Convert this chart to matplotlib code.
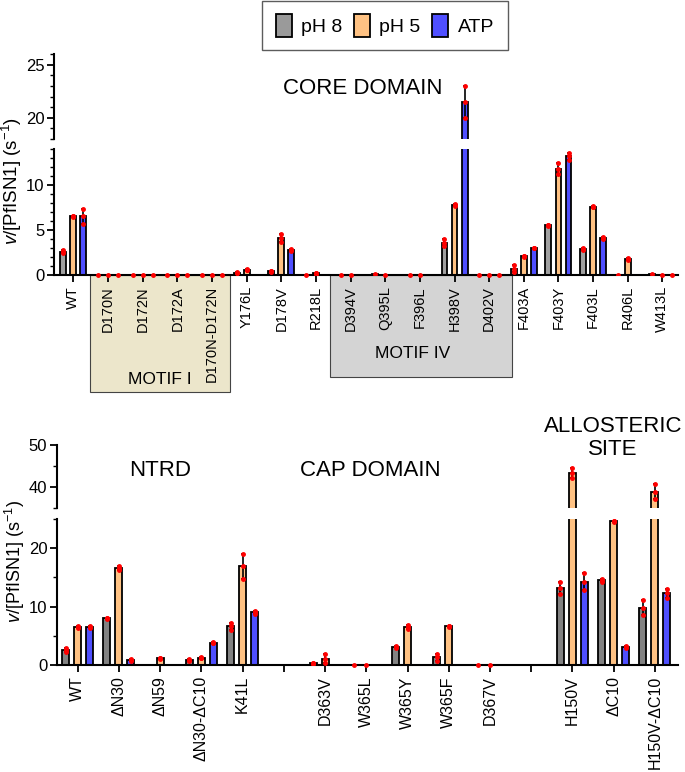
import numpy as np
import matplotlib
matplotlib.use("Agg")
import matplotlib.pyplot as plt
from matplotlib.patches import Rectangle, Patch
from matplotlib.ticker import MultipleLocator
from matplotlib.transforms import blended_transform_factory

plt.rcParams['font.family'] = ['Liberation Sans', 'DejaVu Sans']
plt.rcParams['mathtext.fontset'] = 'custom'
plt.rcParams['mathtext.rm'] = 'Liberation Sans'
plt.rcParams['mathtext.it'] = 'Liberation Sans:italic'

# ---- data: top panel (core domain) ----
top_labels = ["WT", "D170N", "D172N", "D172A", "D170N-D172N", "Y176L", "D178V",
              "R218L", "D394V", "Q395L", "F396L", "H398V", "D402V", "F403A",
              "F403Y", "F403L", "R406L", "W413L"]
top_ph8 = [2.6, 0, 0, 0, 0, 0.25, 0.4, 0, 0, 0.08, 0, 3.6, 0, 0.7, 5.5, 2.9, 0.05, 0.08]
top_ph5 = [6.5, 0, 0, 0, 0, 0.6, 4.1, 0.2, 0, 0, 0, 7.8, 0, 2.1, 11.8, 7.6, 1.8, 0]
top_atp = [6.5, 0, 0, 0, 0, None, 2.8, None, None, None, None, 21.5, 0, 3.0, 13.2, 4.1, None, 0]
top_ph8_err = [0.2, 0, 0, 0, 0, 0.05, 0.05, 0, 0, 0, 0, 0.4, 0, 0.4, 0.1, 0.1, 0, 0]
top_ph5_err = [0.1, 0, 0, 0, 0, 0.05, 0.4, 0.05, 0, 0, 0, 0.1, 0, 0.05, 0.6, 0.1, 0.1, 0]
top_atp_err = [0.8, 0, 0, 0, 0, 0, 0.1, 0, 0, 0, 0, 1.5, 0, 0.05, 0.4, 0.1, 0, 0]

# ---- data: bottom panel (NTRD / CAP / allosteric) ----
bot_labels = ["WT", "ΔN30", "ΔN59", "ΔN30-ΔC10", "K41L", "", "D363V", "W365L",
              "W365Y", "W365F", "D367V", "", "H150V", "ΔC10", "H150V-ΔC10"]
bot_ph8 = [2.6, 8.0, None, 0.85, 6.6, None, 0.3, 0, 3.1, 1.3, 0, None, 13.2, 14.5, 9.8]
bot_ph5 = [6.5, 16.6, 1.15, 1.25, 16.9, None, 1.1, 0, 6.5, 6.6, 0, None, 43.3, 24.6, 38.9]
bot_atp = [6.5, 0.85, None, 3.8, 9.0, None, None, None, None, None, None, None, 14.3, 3.1, 12.3]
bot_ph8_err = [0.3, 0.1, 0, 0.1, 0.6, 0, 0.1, 0, 0.2, 0.6, 0, 0, 1.1, 0.2, 1.3]
bot_ph5_err = [0.1, 0.3, 0.1, 0.1, 2.2, 0, 0.8, 0, 0.3, 0.1, 0, 0, 1.2, 0.1, 1.7]
bot_atp_err = [0.1, 0.1, 0, 0.1, 0.2, 0, 0, 0, 0, 0, 0, 0, 1.5, 0.2, 0.8]

series_names = ["pH 8", "pH 5", "ATP"]
c_gray_top = "#a0a0a0"
c_gray_bot = "#828282"
c_orange = "#ffc283"
c_blue = "#4f4fff"

width = 0.17
offsets = [-0.29, 0, 0.29]


def draw_bars(ax_hi, ax_lo, vals_list, errs_list, colors):
    for k in range(3):
        vals = vals_list[k]
        errs = errs_list[k]
        for i, v in enumerate(vals):
            if v is None:
                continue
            x = i + offsets[k]
            if v == 0:
                # measured but zero -> only a red dot on the axis
                ax_lo.plot(x, 0, 'o', color='red', ms=2.5, zorder=5, clip_on=False)
                continue
            for ax in (ax_hi, ax_lo):
                ax.bar(x, v, width, color=colors[k], edgecolor='black', linewidth=1.3, zorder=2)
                e = errs[i]
                if e > 0:
                    ax.errorbar(x, v, yerr=e, fmt='none', ecolor='black',
                                elinewidth=1.2, capsize=1.5, capthick=1.2, zorder=3)
                    ax.plot([x, x], [v - e, v + e], 'o', color='red', ms=2.5, zorder=4)
                ax.plot(x, v, 'o', color='red', ms=2.5, zorder=4)


def style_pair(ax_hi, ax_lo, xlim, hi_lim, lo_lim, xlab_size):
    for ax in (ax_hi, ax_lo):
        ax.set_xlim(*xlim)
        ax.spines['top'].set_visible(False)
        ax.spines['right'].set_visible(False)
        for s in ('left', 'bottom'):
            ax.spines[s].set_linewidth(1.5)
        ax.tick_params(axis='y', which='major', length=5, width=1.3, labelsize=12, pad=2)
        ax.tick_params(axis='y', which='minor', length=3, width=1.0)
        ax.patch.set_alpha(0)
    ax_hi.set_ylim(*hi_lim)
    ax_lo.set_ylim(*lo_lim)
    ax_hi.spines['bottom'].set_visible(False)
    ax_hi.tick_params(axis='x', bottom=False, labelbottom=False)
    ax_lo.tick_params(axis='x', length=5, width=1.3, labelsize=xlab_size, pad=3)


fig = plt.figure(figsize=(6.85, 7.72), dpi=100)

# top panel
ax1h = fig.add_axes([0.0788, 0.8199, 0.911, 0.1101])
ax1l = fig.add_axes([0.0788, 0.6438, 0.911, 0.1632])
draw_bars(ax1h, ax1l, [top_ph8, top_ph5, top_atp],
          [top_ph8_err, top_ph5_err, top_atp_err], [c_gray_top, c_orange, c_blue])
style_pair(ax1h, ax1l, (-0.56, 17.45), (18, 26), (0, 14), 10.5)
ax1h.yaxis.set_major_locator(MultipleLocator(5))
ax1h.yaxis.set_minor_locator(MultipleLocator(1))
ax1l.yaxis.set_major_locator(MultipleLocator(5))
ax1l.yaxis.set_minor_locator(MultipleLocator(1))
ax1l.set_xticks(np.arange(len(top_labels)))
ax1l.set_xticklabels(top_labels, rotation=90)

# motif boxes under the x axis
tr = blended_transform_factory(ax1l.transData, ax1l.transAxes)
ax1l.add_patch(Rectangle((0.48, -0.93), 4.03, 0.93, transform=tr, facecolor="#ece6cb",
                         edgecolor="#444444", linewidth=0.8, clip_on=False, zorder=0))
ax1l.add_patch(Rectangle((7.42, -0.81), 5.25, 0.81, transform=tr, facecolor="#d4d4d4",
                         edgecolor="#444444", linewidth=0.8, clip_on=False, zorder=0))
ax1l.text(2.49, -0.83, "MOTIF I", transform=tr, ha='center', va='center', fontsize=12.5)
ax1l.text(9.8, -0.62, "MOTIF IV", transform=tr, ha='center', va='center', fontsize=12.5)

# bottom panel
ax2h = fig.add_axes([0.0832, 0.342, 0.9066, 0.0816])
ax2l = fig.add_axes([0.0832, 0.1386, 0.9066, 0.189])
draw_bars(ax2h, ax2l, [bot_ph8, bot_ph5, bot_atp],
          [bot_ph8_err, bot_ph5_err, bot_atp_err], [c_gray_bot, c_orange, c_blue])
style_pair(ax2h, ax2l, (-0.5, 14.56), (35, 50), (0, 25), 11.5)
ax2h.yaxis.set_major_locator(MultipleLocator(10))
ax2h.yaxis.set_minor_locator(MultipleLocator(5))
ax2l.yaxis.set_major_locator(MultipleLocator(10))
ax2l.yaxis.set_minor_locator(MultipleLocator(5))
ax2l.set_xticks(np.arange(len(bot_labels)))
ax2l.set_xticklabels(bot_labels, rotation=90)

# y labels
ylab = r"$v$/[PfISN1] (s$^{-1}$)"
fig.text(0.017, 1 - 181 / 772, ylab, rotation=90, ha='center', va='center', fontsize=13.5)
fig.text(0.022, 1 - 562 / 772, ylab, rotation=90, ha='center', va='center', fontsize=13)

# region titles
fig.text(0.53, 1 - 88 / 772, "CORE DOMAIN", ha='center', va='center', fontsize=16)
fig.text(0.234, 1 - 470 / 772, "NTRD", ha='center', va='center', fontsize=16)
fig.text(0.54, 1 - 470 / 772, "CAP DOMAIN", ha='center', va='center', fontsize=16)
fig.text(0.895, 1 - 438 / 772, "ALLOSTERIC\nSITE", ha='center', va='center',
         fontsize=16, linespacing=1.15)

# legend
handles = [Patch(facecolor=c, edgecolor='black', linewidth=1.3)
           for c in ["#9a9a9a", c_orange, c_blue]]
leg = fig.legend(handles, series_names, loc='upper center', bbox_to_anchor=(0.562, 0.999),
                 ncol=3, fontsize=14, frameon=True, fancybox=False, edgecolor='#333333',
                 handlelength=0.8, handleheight=1.4, columnspacing=0.6, handletextpad=0.5,
                 borderpad=0.7, borderaxespad=0)
leg.get_frame().set_linewidth(1.0)

fig.savefig("out.png", dpi=100)
